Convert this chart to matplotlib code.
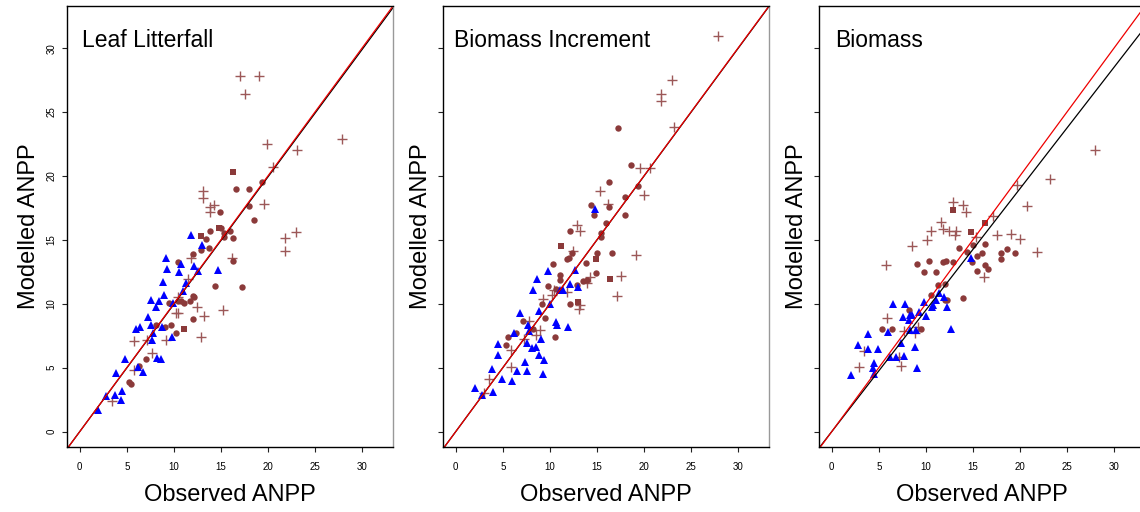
import matplotlib
matplotlib.use("Agg")
import matplotlib.pyplot as plt

plt.rcParams['font.family'] = ['Liberation Sans', 'DejaVu Sans']

# -----------------------------
# Datos
titulos = ["Leaf Litterfall", "Biomass Increment", "Biomass"]
pendiente_ajuste = [0.996, 0.999, 0.95]  # linea negra (ajuste); la roja es 1:1
ticks = [0, 5, 10, 15, 20, 25, 30]

# Leaf Litterfall
leaf_tri_x = [1.95, 2.83, 3.75, 4.46, 4.36, 3.82, 4.85, 6.16, 6.73, 5.95, 6.44, 7.22, 7.54, 7.65, 7.83, 8.18,
              8.60, 8.71, 9.77, 7.58, 8.14, 8.46, 8.96, 8.85, 9.14, 9.28, 9.95, 10.55, 10.76, 10.98, 11.26,
              11.86, 12.18, 12.57, 12.96, 14.73]
leaf_tri_y = [1.70, 2.79, 2.84, 3.21, 2.48, 4.62, 5.71, 5.04, 4.70, 8.01, 8.17, 8.95, 8.37, 7.17, 7.75, 5.74,
              5.71, 8.22, 7.44, 10.31, 9.73, 10.25, 10.67, 11.71, 13.59, 12.76, 10.04, 12.52, 13.12, 11.04, 11.66,
              15.42, 12.97, 12.60, 14.64, 12.65]
leaf_cir_x = [5.24, 5.42, 6.30, 7.05, 8.14, 9.07, 9.74, 10.23, 9.49, 10.48, 10.76, 11.05, 11.72, 12.00, 12.18,
              12.04, 10.45, 12.04, 12.89, 13.46, 13.77, 13.85, 14.34, 14.87, 15.01, 15.37, 15.37, 15.97, 16.25,
              16.25, 16.57, 17.25, 17.95, 17.95, 18.56, 19.33]
leaf_cir_y = [3.91, 3.73, 5.14, 5.66, 8.35, 8.17, 8.32, 7.75, 10.04, 10.20, 10.25, 10.10, 10.20, 10.62, 10.57,
              8.84, 13.28, 13.91, 14.22, 15.11, 14.38, 15.73, 11.40, 17.19, 15.94, 15.52, 15.21, 15.73, 15.16,
              13.38, 18.97, 11.35, 18.97, 17.66, 16.57, 19.57]
leaf_sq_x = [16.29, 12.89, 14.80, 11.08]
leaf_sq_y = [20.32, 15.34, 15.94, 8.04]
leaf_plus_x = [17.03, 19.05, 17.56, 19.94, 23.12, 20.54, 27.87, 19.55, 13.07, 13.07, 13.88, 14.24, 13.88, 21.78,
               22.98, 21.78, 16.15, 11.86, 11.47, 10.41, 12.43, 10.27, 10.45, 13.17, 15.23, 12.89, 9.14, 7.15,
               5.74, 5.74, 7.65, 3.40]
leaf_plus_y = [27.79, 27.79, 26.45, 22.52, 22.07, 20.69, 22.93, 17.82, 18.86, 18.29, 17.61, 17.77, 17.19, 15.13,
               15.63, 14.14, 13.62, 13.57, 11.92, 10.57, 9.76, 9.31, 9.31, 9.05, 9.52, 7.44, 7.17, 7.17,
               7.07, 4.83, 6.13, 2.43]

# Biomass Increment
inc_tri_x = [2.02, 2.83, 3.93, 3.82, 4.46, 4.53, 4.92, 6.01, 6.54, 7.32, 7.61, 6.23, 6.83, 7.64, 7.78, 7.61,
             8.14, 8.56, 8.88, 9.34, 9.23, 9.06, 8.81, 8.24, 8.63, 10.05, 9.83, 10.61, 10.82, 11.89, 11.07,
             11.39, 12.20, 12.63, 13.02, 14.79]
inc_tri_y = [3.42, 2.90, 3.10, 4.88, 6.86, 5.97, 4.15, 3.94, 4.77, 5.45, 4.77, 7.75, 9.26, 8.32, 7.91, 6.91,
             6.57, 6.65, 6.03, 5.61, 4.51, 7.28, 9.47, 11.09, 11.92, 9.99, 12.60, 8.58, 8.37, 8.17, 11.09,
             11.09, 11.56, 12.65, 11.35, 17.40]
inc_cir_x = [5.31, 5.52, 6.37, 7.15, 8.21, 9.52, 10.51, 9.13, 9.83, 10.33, 10.68, 11.04, 11.11, 12.10, 11.81,
             12.03, 12.31, 12.13, 12.91, 13.51, 13.80, 13.94, 14.93, 15.00, 15.42, 15.42, 16.02, 14.43, 14.72,
             16.31, 16.31, 16.63, 17.30, 18.04, 18.04, 18.61, 19.42]
inc_cir_y = [6.81, 7.44, 7.70, 8.69, 8.06, 8.90, 7.44, 9.99, 11.40, 13.12, 11.14, 11.87, 12.29, 9.99, 13.49,
             13.59, 13.96, 15.68, 11.45, 11.77, 13.18, 11.87, 12.39, 13.96, 15.52, 15.21, 16.31, 17.77, 16.93,
             17.56, 19.54, 13.96, 23.77, 18.39, 16.93, 20.85, 19.23]
inc_sq_x = [11.14, 14.86, 16.38, 12.95]
inc_sq_y = [14.53, 13.54, 11.97, 10.15]
inc_plus_x = [27.87, 23.03, 21.79, 21.79, 23.24, 19.60, 20.66, 20.02, 15.32, 16.24, 12.91, 13.23, 12.52, 19.14,
              17.58, 17.12, 14.29, 13.94, 11.81, 10.47, 10.26, 9.27, 13.16, 13.09, 7.78, 8.98, 8.56, 7.29,
              5.84, 5.84, 3.57, 2.97]
inc_plus_y = [30.97, 27.50, 26.38, 25.85, 23.85, 20.66, 20.66, 18.50, 18.81, 17.82, 16.20, 15.73, 14.17, 13.85,
              12.18, 10.64, 12.13, 11.61, 10.93, 11.09, 10.72, 10.41, 9.94, 9.63, 8.64, 7.96, 7.54, 7.28,
              6.39, 5.09, 4.15, 3.00]

# Biomass
bio_tri_x = [2.02, 2.80, 3.83, 3.90, 4.92, 4.50, 4.43, 4.50, 6.02, 6.52, 6.20, 6.84, 7.33, 7.69, 7.62, 7.83,
             8.19, 8.33, 8.54, 8.33, 8.82, 9.03, 8.96, 9.32, 9.81, 10.02, 10.66, 10.80, 11.09, 11.37, 11.94,
             12.22, 12.64, 14.77]
bio_tri_y = [4.41, 6.76, 7.64, 6.44, 6.50, 5.35, 4.98, 4.51, 7.80, 9.99, 5.82, 5.82, 6.97, 5.92, 8.95, 9.99,
             8.74, 9.16, 9.16, 7.96, 6.60, 4.98, 7.96, 9.37, 10.15, 9.05, 9.73, 9.89, 10.31, 10.88, 10.51,
             9.78, 8.06, 13.59]
bio_cir_x = [5.31, 6.41, 8.18, 9.46, 9.10, 9.81, 10.31, 11.12, 11.80, 12.11, 10.52, 11.30, 12.08, 12.08, 12.22,
             12.93, 13.50, 13.92, 14.42, 14.98, 14.91, 15.41, 15.41, 15.98, 16.33, 16.33, 16.61, 18.03, 18.03,
             18.60, 19.45]
bio_cir_y = [8.01, 8.01, 9.52, 8.01, 13.12, 12.50, 13.38, 12.50, 13.28, 13.33, 10.67, 11.45, 11.56, 10.31, 10.31,
             13.28, 14.38, 10.49, 14.06, 14.58, 13.28, 13.75, 12.60, 13.96, 14.69, 13.02, 12.76, 13.96, 13.49,
             14.27, 14.01]
bio_sq_x = [12.93, 14.84, 16.33]
bio_sq_y = [17.35, 15.65, 16.36]
bio_plus_x = [27.95, 23.20, 19.66, 20.72, 17.11, 12.93, 13.92, 14.28, 11.58, 11.87, 10.52, 10.16, 12.50, 13.21,
              13.14, 15.34, 17.61, 19.09, 20.02, 21.79, 16.19, 8.54, 5.77, 5.84, 3.44, 2.94, 7.12, 7.40,
              9.17, 8.89, 7.69]
bio_plus_y = [22.07, 19.75, 19.31, 17.69, 16.88, 17.98, 17.77, 17.19, 16.41, 15.89, 15.68, 15.00, 15.68, 15.73,
              15.37, 15.21, 15.37, 15.47, 15.05, 14.06, 12.08, 14.53, 13.02, 8.90, 6.29, 5.09, 5.87, 5.14,
              8.22, 7.75, 7.85]

paneles = [
    (leaf_tri_x, leaf_tri_y, leaf_cir_x, leaf_cir_y, leaf_sq_x, leaf_sq_y, leaf_plus_x, leaf_plus_y),
    (inc_tri_x, inc_tri_y, inc_cir_x, inc_cir_y, inc_sq_x, inc_sq_y, inc_plus_x, inc_plus_y),
    (bio_tri_x, bio_tri_y, bio_cir_x, bio_cir_y, bio_sq_x, bio_sq_y, bio_plus_x, bio_plus_y),
]

# -----------------------------
# Figura
fig = plt.figure(figsize=(11.4, 5.12), dpi=100)
izquierdas = [67, 443, 819]
ancho, alto, abajo = 326, 441, 65
titulo_x = [0.045, 0.035, 0.05]
marron = "#8B3A3A"
marron_claro = "#9C5858"

for i, datos in enumerate(paneles):
    tx, ty, cx, cy, sx, sy, px, py = datos
    ax = fig.add_axes([izquierdas[i] / 1140, abajo / 512, ancho / 1140, alto / 512])

    ax.plot(px, py, linestyle='none', marker='+', ms=7, mew=1.0, color=marron_claro)
    ax.plot(cx, cy, linestyle='none', marker='o', ms=4.6, mew=0, color=marron)
    ax.plot(sx, sy, linestyle='none', marker='s', ms=4.4, mew=0, color=marron)
    ax.plot(tx, ty, linestyle='none', marker='^', ms=6, mew=0, color='#0000FF')

    xs = [-5, 40]
    ax.plot(xs, [pendiente_ajuste[i] * v for v in xs], color='black', lw=0.9)
    ax.plot(xs, xs, color='#EE0000', lw=0.9)

    ax.set_xlim(-1.35, 33.3)
    ax.set_ylim(-1.2, 33.3)
    ax.set_xticks(ticks)
    ax.set_yticks(ticks)
    ax.tick_params(length=3.6, width=0.8, labelsize=7, color='#222222')
    ax.tick_params(axis='x', pad=7)
    ax.tick_params(axis='y', pad=4, labelrotation=90)
    for lab in ax.get_yticklabels():
        lab.set_va('center')
    if i > 0:
        ax.tick_params(axis='y', labelleft=False)

    for lado in ['left', 'top', 'bottom']:
        ax.spines[lado].set_color('black')
        ax.spines[lado].set_linewidth(1.0)
    ax.spines['right'].set_color('#999999')
    ax.spines['right'].set_linewidth(1.0)

    ax.text(titulo_x[i], 0.947, titulos[i], transform=ax.transAxes, fontsize=16.5, va='top', ha='left')

    ax.set_xlabel("Observed ANPP", fontsize=17)
    ax.set_ylabel("Modelled ANPP", fontsize=17)
    ax.xaxis.set_label_coords(0.5, -0.085)
    if i == 0:
        ax.yaxis.set_label_coords(-0.083, 0.5)
    else:
        ax.yaxis.set_label_coords(-0.035, 0.5)

plt.savefig("out.png", dpi=100)
print("Grafico guardado como 'out.png'.")
